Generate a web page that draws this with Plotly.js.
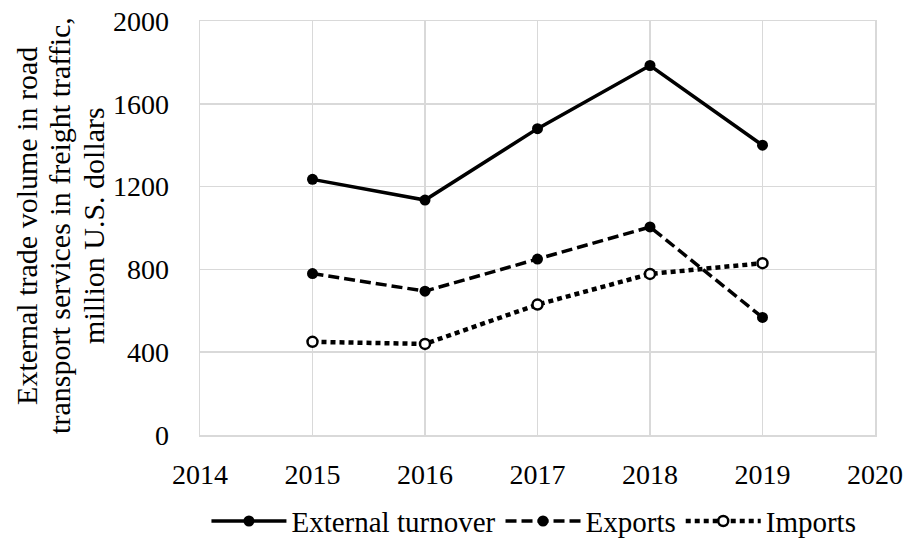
<!DOCTYPE html>
<html>
<head>
<meta charset="utf-8">
<script src="https://cdn.plot.ly/plotly-3.0.1.min.js"></script>
<style>html,body{margin:0;padding:0;background:#fff;}#chart{width:905px;height:544px;}</style>
</head>
<body>
<div id="chart"></div>
<script>
const years = [2015, 2016, 2017, 2018, 2019];
const externalTurnover = [1235, 1135, 1480, 1785, 1400];
const exportsVals = [780, 695, 850, 1005, 568];
const importsVals = [450, 440, 630, 778, 830];
const xTicks = [2014, 2015, 2016, 2017, 2018, 2019, 2020];
const yTicks = [0, 400, 800, 1200, 1600, 2000];
const yTitleLines = ['External trade volume in road', 'transport services in freight traffic,', 'million U.S. dollars'];

const FONT = "'Liberation Serif', 'Times New Roman', serif";

const traces = [
  {x: years, y: externalTurnover, name: 'External turnover', mode: 'lines+markers', type: 'scatter',
   line: {color: '#000', width: 3.5}, marker: {color: '#000', size: 11}},
  {x: years, y: exportsVals, name: 'Exports', mode: 'lines+markers', type: 'scatter',
   line: {color: '#000', width: 3.5, dash: '11px,5px'}, marker: {color: '#000', size: 11}},
  {x: years, y: importsVals, name: 'Imports', mode: 'lines+markers', type: 'scatter',
   line: {color: '#000', width: 4.5, dash: '5px,4px'}, marker: {color: '#fff', size: 10, line: {color: '#000', width: 2.5}}}
];

// y-axis title lines as rotated annotations (tighter line spacing than a <br> title)
const titleX = [27, 60, 94];
const annotations = yTitleLines.map((t, i) => ({
  text: t, xref: 'paper', yref: 'paper', x: (titleX[i] - 200) / 675, y: 0.505,
  xanchor: 'center', yanchor: 'middle', textangle: -90, showarrow: false,
  font: {family: FONT, size: 30, color: '#000'}
}));

const layout = {
  width: 905, height: 544,
  margin: {l: 200, r: 30, t: 21, b: 109},
  paper_bgcolor: '#fff', plot_bgcolor: '#fff',
  font: {family: FONT, size: 28, color: '#000'},
  showlegend: true,
  legend: {orientation: 'h', xref: 'container', yref: 'container', x: 0.59, xanchor: 'center',
           y: 0.042, yanchor: 'middle',
           font: {family: FONT, size: 29, color: '#000'}, tracegroupgap: 0, itemwidth: 75},
  annotations: annotations,
  xaxis: {range: [2014, 2020], tickvals: xTicks, ticktext: xTicks.map(String), showgrid: true,
          gridcolor: '#d9d9d9', gridwidth: 1.5, zeroline: false, showline: true, linecolor: '#d9d9d9',
          linewidth: 1.5, mirror: true, ticks: 'outside', ticklen: 14, tickcolor: 'rgba(0,0,0,0)',
          tickfont: {family: FONT, size: 28, color: '#000'}, fixedrange: true, automargin: false},
  yaxis: {range: [0, 2000], tickvals: yTicks, ticktext: yTicks.map(String), showgrid: true,
          gridcolor: '#d9d9d9', gridwidth: 1.5, zeroline: false, showline: true, linecolor: '#d9d9d9',
          linewidth: 1.5, mirror: true, ticks: 'outside', ticklen: 24, tickcolor: 'rgba(0,0,0,0)',
          tickfont: {family: FONT, size: 28, color: '#000'}, fixedrange: true, automargin: false}
};

Plotly.newPlot('chart', traces, layout, {displayModeBar: false, staticPlot: true});
</script>
</body>
</html>
